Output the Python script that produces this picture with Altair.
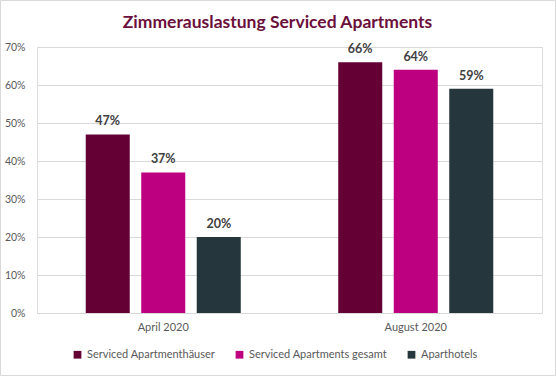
import altair as alt
import pandas as pd

periods = ["April 2020", "August 2020"]
series = ["Serviced Apartmenthäuser", "Serviced Apartments gesamt", "Aparthotels"]
values_april = [0.47, 0.37, 0.20]
values_august = [0.66, 0.64, 0.59]
colors = ["#650034", "#BC0080", "#26363D"]
y_ticks = [0, 0.1, 0.2, 0.3, 0.4, 0.5, 0.6, 0.7]

rows = []
for p, vals in zip(periods, [values_april, values_august]):
    for s, v in zip(series, vals):
        rows.append({"period": p, "series": s, "value": v})
df = pd.DataFrame(rows)

FONT = "Lato"

base = alt.Chart(df).encode(
    x=alt.X("period:N", sort=periods, title=None,
            scale=alt.Scale(paddingInner=0, paddingOuter=0),
            axis=alt.Axis(labelAngle=0, ticks=False, domainColor="#d9d9d9",
                          labelColor="#595959", labelFontSize=11, labelFont=FONT,
                          labelPadding=8)),
    xOffset=alt.XOffset("series:N", sort=series,
                        scale=alt.Scale(paddingInner=0.207, paddingOuter=0.878)),
    y=alt.Y("value:Q", title=None,
            scale=alt.Scale(domain=[0, 0.7], nice=False),
            axis=alt.Axis(format=".0%", values=y_ticks, ticks=False, domain=False,
                          gridColor="#d9d9d9", labelColor="#595959",
                          labelFontSize=10.5, labelFont=FONT, labelPadding=12)),
)

bars = base.mark_bar().encode(
    color=alt.Color("series:N", sort=series,
                    scale=alt.Scale(domain=series, range=colors),
                    legend=alt.Legend(title=None, orient="none", direction="horizontal",
                                      legendX=35, legendY=302,
                                      symbolType="square", symbolSize=60,
                                      symbolStrokeWidth=0,
                                      labelFont=FONT, labelFontSize=11,
                                      labelColor="#595959", columnPadding=18,
                                      labelOffset=4))
)

labels = base.mark_text(baseline="bottom", dy=-6, font=FONT, fontWeight="bold",
                        fontSize=12.5, color="#404040").encode(
    text=alt.Text("value:Q", format=".0%")
)

frame = alt.Chart(pd.DataFrame({"a": [0]})).mark_rect(
    fill=None, stroke="#d9d9d9", strokeWidth=1
).encode(
    x=alt.value(-36.5), x2=alt.value(518.5), y=alt.value(-46.5), y2=alt.value(328.5)
)

chart = alt.layer(bars, labels, frame).properties(
    width=505, height=266,
    autosize=alt.AutoSizeParams(type="none"),
    padding={"left": 37, "top": 47, "right": 14, "bottom": 63},
    title=alt.TitleParams("Zimmerauslastung Serviced Apartments", font=FONT,
                          fontSize=17.5, fontWeight="bold", color="#6B0F3C",
                          anchor="middle", dx=-12, offset=-45,
                          baseline="alphabetic"),
).configure_view(stroke=None).configure(background="white")

chart.save("out.html", embed_options={"renderer": "svg", "actions": False})
